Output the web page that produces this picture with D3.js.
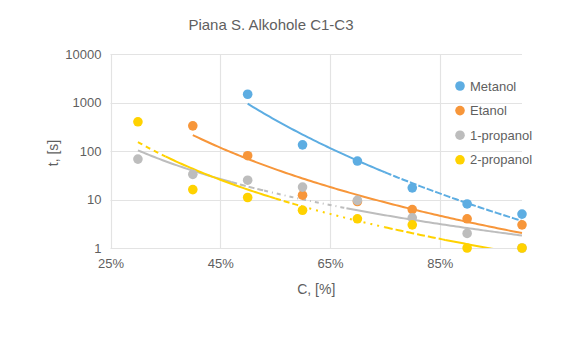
<!DOCTYPE html>
<html>
<head>
<meta charset="utf-8">
<script src="https://cdn.jsdelivr.net/npm/d3@7"></script>
<style>
  body { margin: 0; background: #fff; }
  svg { font-family: "Liberation Sans", Arial, Helvetica, sans-serif; }
</style>
</head>
<body>
<svg id="chart" width="574" height="337"></svg>
<script>
// Data (concentration as fraction, time in seconds)
const concentrations = [0.3, 0.4, 0.5, 0.6, 0.7, 0.8, 0.9, 1.0];
const seriesNames = ["Metanol", "Etanol", "1-propanol", "2-propanol"];
const metanol   = [null, null, 1480, 134, 62, 17.4, 8.1, 5];
const etanol    = [null, 330, 80, 12.3, 9.1, 6.2, 4, 3];
const propanol1 = [68, 33, 25, 18, 9.6, 4.2, 2, 1];
const propanol2 = [400, 16, 11, 6, 4, 3, 1, 1];
const xTicks = [0.25, 0.45, 0.65, 0.85];
const yTicks = [1, 10, 100, 1000, 10000];

const colors = ["#5dade2", "#f7963a", "#bdbdbd", "#ffd200"];

// rough imitation of the broken-up trendline strokes in the original
const strokeStyles = [
  [[0, 0.75, null], [0.75, 1.01, "7,2"]],
  [[0, 1.01, null]],
  [[0, 0.47, null], [0.47, 0.53, "6,3"], [0.53, 0.68, "4,4,1,4"], [0.68, 1.01, null]],
  [[0, 0.35, "5,4"], [0.35, 0.55, null], [0.55, 0.6, "6,3"], [0.6, 0.75, "2,5"], [0.75, 0.86, "8,3"], [0.86, 1.01, null]]
];

const allSeries = [metanol, etanol, propanol1, propanol2].map((vals, i) => ({
  name: seriesNames[i],
  color: colors[i],
  points: concentrations.map((c, j) => ({ x: c, y: vals[j] })).filter(p => p.y != null)
}));

const svg = d3.select("#chart");
const margin = { left: 110.5, right: 52, top: 54, bottom: 89 };
const W = 574, H = 337;

const x = d3.scaleLinear().domain([0.25, 1.0]).range([margin.left, W - margin.right]);
const y = d3.scaleLog().domain([1, 10000]).range([H - margin.bottom, margin.top]);

const textColor = "#5f5f5f";
const gridColor = "#e3e3e3";

// title
svg.append("text")
  .attr("x", 271).attr("y", 30)
  .attr("text-anchor", "middle")
  .attr("font-size", 15)
  .attr("fill", textColor)
  .text("Piana S. Alkohole C1-C3");

// gridlines
const grid = svg.append("g");
grid.selectAll("line.h").data(yTicks).enter().append("line")
  .attr("x1", x(0.25)).attr("x2", x(1.0))
  .attr("y1", d => Math.round(y(d)) + 0.5).attr("y2", d => Math.round(y(d)) + 0.5)
  .attr("stroke", gridColor).attr("stroke-width", 1.2);
grid.selectAll("line.v").data(xTicks).enter().append("line")
  .attr("y1", y(10000)).attr("y2", y(1))
  .attr("x1", d => Math.round(x(d)) + 0.5).attr("x2", d => Math.round(x(d)) + 0.5)
  .attr("stroke", gridColor).attr("stroke-width", 1.2);

// axes (labels only)
const yAxis = d3.axisLeft(y).tickValues(yTicks).tickFormat(d3.format("d")).tickSize(0).tickPadding(9);
svg.append("g").attr("transform", `translate(${x(0.25)},0)`).call(yAxis)
  .call(g => g.select(".domain").remove())
  .selectAll("text").attr("font-size", 13).attr("fill", textColor)
  .attr("font-family", "Liberation Sans, Arial, sans-serif");

const xAxis = d3.axisBottom(x).tickValues(xTicks).tickFormat(d3.format(".0%")).tickSize(0).tickPadding(11);
svg.append("g").attr("transform", `translate(0,${y(1)})`).call(xAxis)
  .call(g => g.select(".domain").remove())
  .selectAll("text").attr("font-size", 13).attr("fill", textColor)
  .attr("font-family", "Liberation Sans, Arial, sans-serif");

// axis titles
svg.append("text")
  .attr("x", (x(0.25) + x(1.0)) / 2).attr("y", 294)
  .attr("text-anchor", "middle").attr("font-size", 14).attr("fill", textColor)
  .text("C, [%]");
svg.append("text")
  .attr("transform", `translate(58,${(y(1) + y(10000)) / 2 + 2}) rotate(-90)`)
  .attr("text-anchor", "middle").attr("font-size", 14).attr("fill", textColor)
  .text("t, [s]");

// power trendline: ln y = ln a + b ln x
function powerFit(points) {
  const lx = points.map(p => Math.log(p.x)), ly = points.map(p => Math.log(p.y));
  const mx = d3.mean(lx), my = d3.mean(ly);
  const b = d3.sum(lx, (v, i) => (v - mx) * (ly[i] - my)) / d3.sum(lx, v => (v - mx) ** 2);
  const a = Math.exp(my - b * mx);
  return xv => a * Math.pow(xv, b);
}

svg.append("defs").append("clipPath").attr("id", "plotClip")
  .append("rect").attr("x", x(0.25)).attr("y", y(10000) - 10)
  .attr("width", x(1.0) - x(0.25) + 10).attr("height", y(1) - y(10000) + 10);

const trendG = svg.append("g").attr("clip-path", "url(#plotClip)");
const line = d3.line().x(d => x(d.x)).y(d => y(Math.max(d.y, 0.5)));

allSeries.forEach((s, i) => {
  const f = powerFit(s.points);
  const x0 = d3.min(s.points, p => p.x), x1 = d3.max(s.points, p => p.x);
  strokeStyles[i].forEach(([a, b, dash]) => {
    const lo = Math.max(a, x0), hi = Math.min(b, x1);
    if (hi <= lo) return;
    const pts = d3.range(lo, hi, 0.005).concat([hi]).map(v => ({ x: v, y: f(v) }));
    trendG.append("path")
      .attr("d", line(pts))
      .attr("fill", "none")
      .attr("stroke", s.color)
      .attr("stroke-width", 2)
      .attr("stroke-dasharray", dash);
  });
});

// points
allSeries.forEach(s => {
  svg.append("g").selectAll("circle").data(s.points).enter().append("circle")
    .attr("cx", d => x(d.x)).attr("cy", d => y(d.y))
    .attr("r", 4.8).attr("fill", s.color);
});

// legend
const legend = svg.append("g").attr("transform", "translate(460,86)");
const li = legend.selectAll("g").data(allSeries).enter().append("g")
  .attr("transform", (d, i) => `translate(0,${i * 24.6})`);
li.append("circle").attr("r", 4.8).attr("fill", d => d.color);
li.append("text").attr("x", 10).attr("dy", "0.36em")
  .attr("font-size", 13).attr("fill", textColor).text(d => d.name);
</script>
</body>
</html>
